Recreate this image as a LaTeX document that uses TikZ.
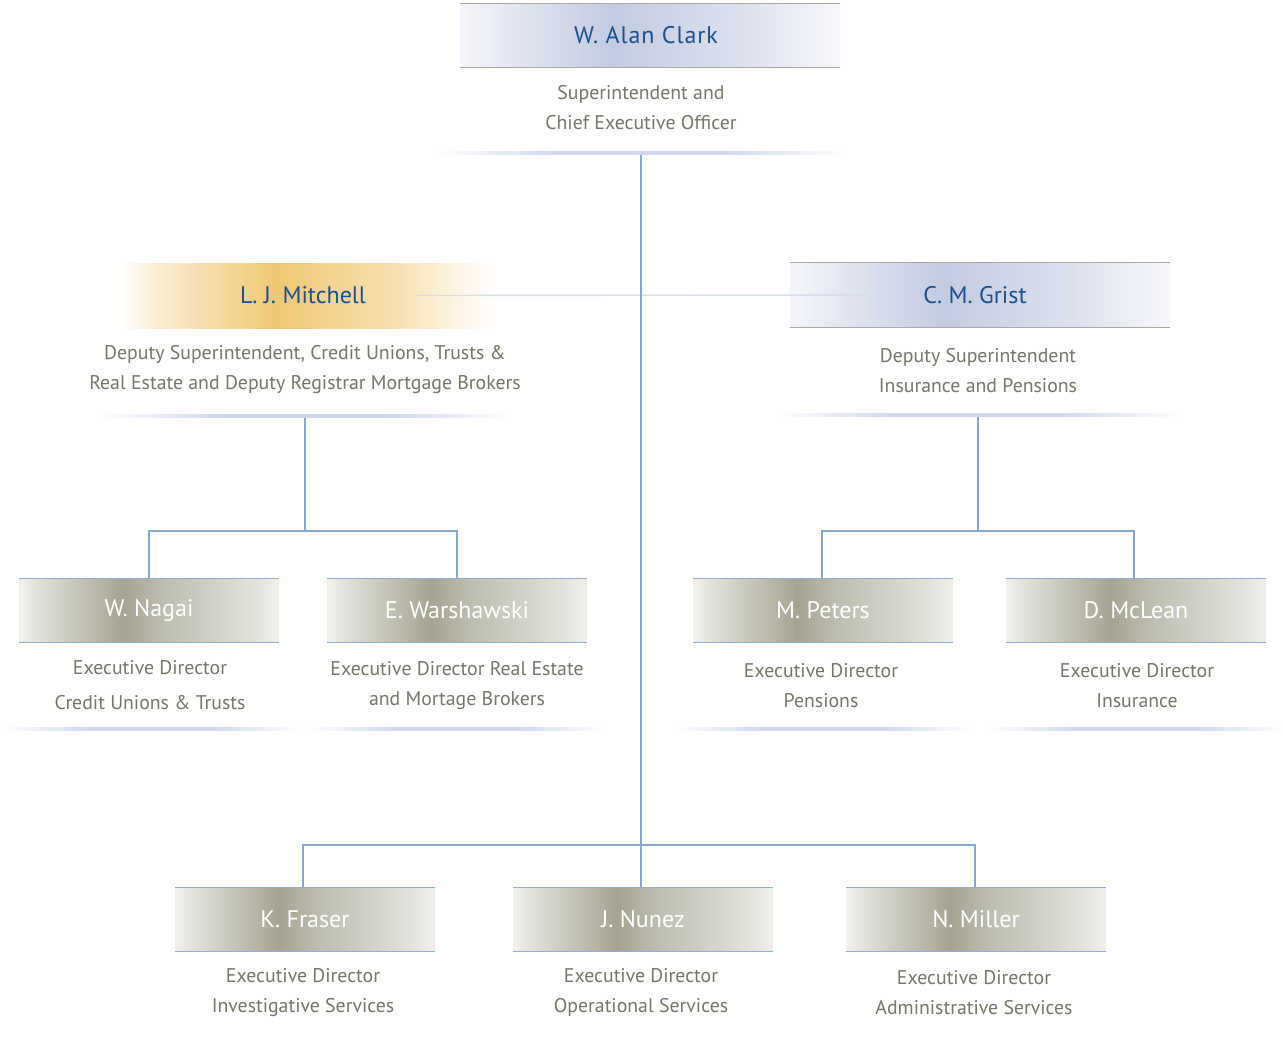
\documentclass[tikz,border=0pt]{standalone}
\usepackage{fontspec}
\setmainfont{PT Sans}
\usetikzlibrary{calc}
\definecolor{namblue}{HTML}{1D4F8B}
\definecolor{subgray}{HTML}{76776A}
\definecolor{conblue}{HTML}{86A8D0}
\definecolor{edgegray}{HTML}{A9A9A0}
\definecolor{edgeblue}{HTML}{8EB0D8}
\definecolor{lightcon}{HTML}{D6DCEA}
\definecolor{m0}{HTML}{F1F1EE}\definecolor{m1}{HTML}{DCDCD5}\definecolor{m2}{HTML}{A5A493}
\definecolor{m3}{HTML}{BEBEB2}\definecolor{m4}{HTML}{D6D6CE}\definecolor{m5}{HTML}{EFEFEC}
\definecolor{b0}{HTML}{F5F6FA}\definecolor{b1}{HTML}{C3CBE1}\definecolor{b2}{HTML}{DDE1EE}\definecolor{b3}{HTML}{F7F8FB}
\definecolor{g0}{HTML}{FFFFFF}\definecolor{g1}{HTML}{FAEDD2}\definecolor{g2}{HTML}{EFC874}\definecolor{g3}{HTML}{F7E1B2}\definecolor{g4}{HTML}{FFFFFF}
\definecolor{s1}{HTML}{D0D7EC}
\pgfdeclarehorizontalshading{metal}{100bp}{color(0bp)=(m0); color(25bp)=(m0); color(30bp)=(m1); color(45bp)=(m2); color(53bp)=(m3); color(65bp)=(m4); color(75bp)=(m5); color(100bp)=(m5)}
\pgfdeclarehorizontalshading{bluesh}{100bp}{color(0bp)=(b0); color(25bp)=(b0); color(45bp)=(b1); color(62bp)=(b2); color(75bp)=(b3); color(100bp)=(b3)}
\pgfdeclarehorizontalshading{goldsh}{100bp}{color(0bp)=(g0); color(25bp)=(g0); color(30bp)=(g1); color(46bp)=(g2); color(62bp)=(g3); color(75bp)=(g4); color(100bp)=(g4)}
\pgfdeclarehorizontalshading{shadowsh}{100bp}{color(0bp)=(white); color(25bp)=(white); color(40bp)=(s1); color(60bp)=(s1); color(75bp)=(white); color(100bp)=(white)}
\tikzset{
  box/.style={rectangle, inner sep=0pt, minimum height=63pt, minimum width=260pt},
  metalbox/.style={box, shading=metal, text=white, font=\fontsize{24}{24}\selectfont},
  bluebox/.style={box, minimum width=380pt, shading=bluesh, text=namblue, font=\fontsize{24}{24}\selectfont},
  goldbox/.style={box, minimum width=372pt, minimum height=65pt, shading=goldsh, text=namblue, font=\fontsize{24}{24}\selectfont},
  subtxt/.style={align=center, text=subgray, inner sep=0pt, font=\fontsize{19.8}{30}\selectfont},
  subtxtw/.style={subtxt, font=\fontsize{19.8}{35}\selectfont},
  shadowline/.style={rectangle, inner sep=0pt, minimum height=3.5pt, shading=shadowsh},
  con/.style={draw=conblue, line width=1.2pt},
  lcon/.style={draw=lightcon, line width=1.4pt},
}
\begin{document}
\begin{tikzpicture}[x=1pt,y=-1pt]
\useasboundingbox[fill=white] (0,0) rectangle (1284,1037);
% top
\node[bluebox] (clark) at (650,35.5) {\hspace*{-8pt}\addfontfeature{LetterSpace=4}W. Alan Clark};
\draw[edgegray, line width=1.3pt] (clark.north west) -- (clark.north east) (clark.south west) -- (clark.south east);
\node[subtxt] (clarkT) at (641,108) {Superintendent and\\Chief Executive Officer};
\node[shadowline, minimum width=410pt] (clarkS) at (641,153) {};
% deputies
\node[goldbox] (lj) at (306,295.5) {\hspace*{-6pt}L. J. Mitchell};
\node[subtxt] (ljT) at (305,370) {Deputy Superintendent, Credit Unions, Trusts \&\\Real Estate and Deputy Registrar Mortgage Brokers};
\node[shadowline, minimum width=410pt] (ljS) at (305,416) {};
\node[bluebox, minimum height=64pt] (cm) at (980,295) {\hspace*{-10pt}C. M. Grist};
\draw[edgegray, line width=1.3pt] (cm.north west) -- (cm.north east) (cm.south west) -- (cm.south east);
\node[subtxt] (cmT) at (978,371) {Deputy Superintendent\\Insurance and Pensions};
\node[shadowline, minimum width=405pt] (cmS) at (978,415) {};
% row 2
\node[metalbox] (nagai) at (149,610.5) {W. Nagai};
\node[metalbox] (warsh) at (457,610.5) {E. Warshawski};
\node[metalbox] (peters) at (823,610.5) {M. Peters};
\node[metalbox] (mclean) at (1136,610.5) {D. McLean};
\foreach \n in {nagai,warsh,peters,mclean}{
  \draw[edgeblue, line width=1.2pt] (\n.north west) -- (\n.north east) (\n.south west) -- (\n.south east);}
\node[subtxtw] (nagaiT) at (150,685.5) {Executive Director\\Credit Unions \& Trusts};
\node[subtxt] (warshT) at (457,686) {Executive Director Real Estate\\and Mortage Brokers};
\node[subtxt] (petersT) at (821,685.5) {Executive Director\\Pensions};
\node[subtxt] (mcleanT) at (1137,685.5) {Executive Director\\Insurance};
\node[shadowline, minimum width=300pt] (nagaiS) at (150,729) {};
\node[shadowline, minimum width=295pt] (warshS) at (457,729) {};
\node[shadowline, minimum width=295pt] (petersS) at (822,729) {};
\node[shadowline, minimum width=295pt] (mcleanS) at (1137,729) {};
% row 3
\node[metalbox] (fraser) at (305,919.5) {K. Fraser};
\node[metalbox] (nunez) at (643,919.5) {J. Nunez};
\node[metalbox] (miller) at (976,919.5) {N. Miller};
\foreach \n in {fraser,nunez,miller}{
  \draw[edgeblue, line width=1.2pt] (\n.north west) -- (\n.north east) (\n.south west) -- (\n.south east);}
\node[subtxt] (fraserT) at (303,993) {Executive Director\\Investigative Services};
\node[subtxt] (nunezT) at (641,992) {Executive Director\\Operational Services};
\node[subtxt] (millerT) at (974,993) {Executive Director\\Administrative Services};
% connectors
\coordinate (hb) at (641,845);
\coordinate (lj2) at (305,531);
\coordinate (cm2) at (978,531);
\draw[lcon] ([xshift=-75pt]lj.east) -- ([xshift=78pt]cm.west);
\draw[con] (clarkS.south) -- (hb) -- (nunez.north -| hb);
\draw[con] (fraser.north -| 303,0) |- (hb) -| (miller.north -| 975,0);
\draw[con] (ljS.south) -- (lj2);
\draw[con] (nagai.north) |- (lj2) -| (warsh.north);
\draw[con] (cmS.south) -- (cm2);
\draw[con] (peters.north -| 822,0) |- (cm2) -| (mclean.north -| 1134,0);
\end{tikzpicture}
\end{document}
